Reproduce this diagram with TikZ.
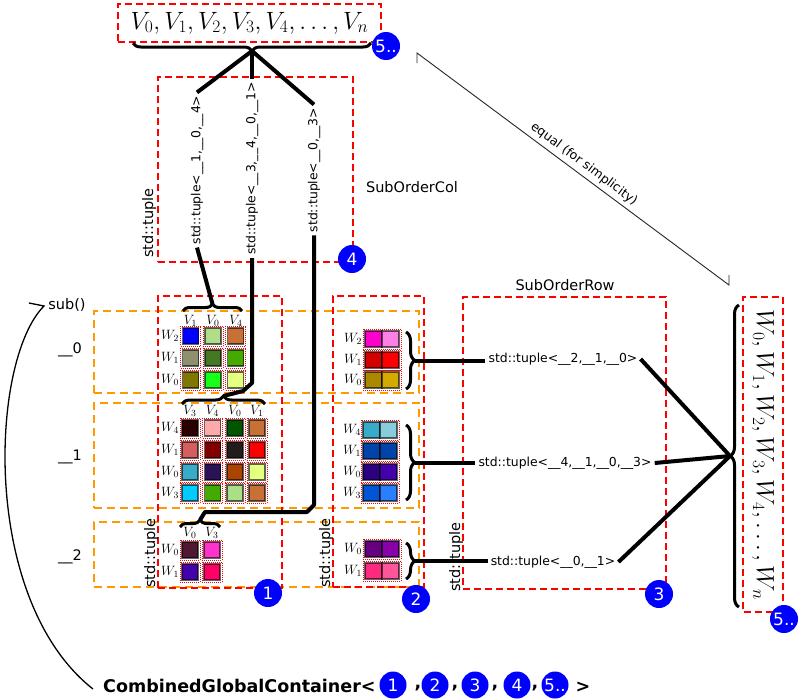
\RequirePackage{fix-cm}
\documentclass[tikz,border=0pt]{standalone}
\usepackage[no-math]{fontspec}
\setmainfont{DejaVu Sans}
\usetikzlibrary{decorations.pathreplacing}
\definecolor{boxorange}{RGB}{255,153,0}
\newcount\cellno
\newcommand\cellat[3]{%
  \global\advance\cellno by 1
  \definecolor{tmpc}{HTML}{#3}%
  \node[halo] (h\the\cellno) at (#1,#2) {};
  \node[cell, fill=tmpc] (c\the\cellno) at (#1,#2) {};}
\newcommand\pairat[4]{%
  \global\advance\cellno by 1
  \definecolor{tmpa}{HTML}{#3}%
  \definecolor{tmpb}{HTML}{#4}%
  \node[halo, minimum width=38pt, minimum height=20pt] (h\the\cellno) at (#1,#2) {};
  \node[cell, minimum width=17pt, minimum height=16pt, fill=tmpa] (pl\the\cellno) at ({#1-8.5},#2) {};
  \node[cell, minimum width=17pt, minimum height=16pt, fill=tmpb] (pr\the\cellno) at ({#1+8.5},#2) {};}
\begin{document}
\begin{tikzpicture}[x=1pt,y=-1pt,
 redbox/.style={draw=red, line width=2pt, dash pattern=on 7pt off 4pt, inner sep=0pt},
 orangebox/.style={draw=boxorange, line width=2pt, dash pattern=on 8pt off 5pt, inner sep=0pt},
 conn/.style={line width=4pt},
 brc/.style={decorate, decoration={brace, amplitude=8pt}, line width=3pt},
 brcm/.style={decorate, decoration={brace, mirror, amplitude=8pt}, line width=3pt},
 num/.style={circle, fill=blue, text=white, inner sep=0pt, minimum size=28pt, font=\fontsize{17}{17}\selectfont},
 tup/.style={font=\fontsize{12.4}{15}\selectfont, inner sep=3pt},
 lbl/.style={font=\fontsize{14.5}{17}\selectfont, inner sep=2pt},
 mlbl/.style={font=\fontsize{13.5}{16}\selectfont, inner sep=0pt},
 halo/.style={draw=red, densely dotted, line width=1pt, minimum size=20pt, inner sep=0pt},
 cell/.style={draw=black, draw opacity=0.6, line width=1.2pt, minimum size=16pt, inner sep=0pt},
]
\useasboundingbox (0,0) rectangle (800,699);
\fill[white] (0,0) rectangle (800,699);

% orange row boxes
\node[orangebox, minimum width=325pt, minimum height=82pt] (row0) at (256.5,352) {};
\node[orangebox, minimum width=325pt, minimum height=105pt] (row1) at (256.5,455.5) {};
\node[orangebox, minimum width=325pt, minimum height=65pt] (row2) at (256.5,554.5) {};

% red boxes
\node[redbox, minimum width=263pt, minimum height=38pt, font=\fontsize{25}{30}\selectfont] (vbox) at (249.5,23) {$V_0,V_1,V_2,V_3,V_4,\ldots,V_n$};
\node[redbox, minimum width=195pt, minimum height=185pt] (colbox) at (255.5,169.5) {};
\node[redbox, minimum width=124pt, minimum height=292pt] (box1) at (220,442) {};
\node[redbox, minimum width=91pt, minimum height=291pt] (box2) at (378.5,441.5) {};
\node[redbox, minimum width=203pt, minimum height=292pt] (box3) at (564.5,443) {};
\node[redbox, minimum width=315pt, minimum height=40pt, rotate=-90, font=\fontsize{25}{30}\selectfont] (wbox) at (763,454.5) {$W_0,W_1,W_2,W_3,W_4,\ldots,W_n$};

% labels
\node[lbl] (colname) at (412,187) {SubOrderCol};
\node[lbl] (rowname) at (565,285) {SubOrderRow};
\node[lbl, rotate=90] (st0) at (149,223) {std::tuple};
\node[lbl, rotate=90] (st1) at (151,553) {std::tuple};
\node[lbl, rotate=90] (st2) at (326,553) {std::tuple};
\node[lbl, rotate=90] (st3) at (456,557) {std::tuple};
\node[lbl] (sub) at (67,305) {sub()};
\node[lbl] (i0) at (70,350) {\_\_0};
\node[lbl] (i1) at (70,457) {\_\_1};
\node[lbl] (i2) at (70,557) {\_\_2};

% column tuples
\node[tup, rotate=90] (t1) at (197,170) {std::tuple<\_\_1,\_\_0,\_\_4>};
\node[tup, rotate=90] (t2) at (252,168.5) {std::tuple<\_\_3,\_\_4,\_\_0,\_\_1>};
\node[tup, rotate=90] (t3) at (314,170) {std::tuple<\_\_0,\_\_3>};

% row tuples
\node[tup] (r0) at (563,359) {std::tuple<\_\_2,\_\_1,\_\_0>};
\node[tup] (r1) at (565,463) {std::tuple<\_\_4,\_\_1,\_\_0,\_\_3>};
\node[tup] (r2) at (553,562) {std::tuple<\_\_0,\_\_1>};

% col1 row0 grid
\node[mlbl] (a0v1) at (190.5,321) {$V_1$};
\node[mlbl] (a0v0) at (213,321) {$V_0$};
\node[mlbl] (a0v4) at (236,321) {$V_4$};
\node[mlbl] (a0w2) at (170,336) {$W_2$};
\node[mlbl] (a0w1) at (170,358) {$W_1$};
\node[mlbl] (a0w0) at (170,380) {$W_0$};
\cellat{190.5}{336}{0000FF}\cellat{213}{336}{AFDD8A}\cellat{235.5}{336}{C87137}
\cellat{190.5}{358}{8F916E}\cellat{213}{358}{447821}\cellat{235.5}{358}{44AA00}
\cellat{190.5}{380}{807700}\cellat{213}{380}{1AFF1A}\cellat{235.5}{380}{E5FF80}

% col1 row1 grid
\node[mlbl] (a1v3) at (190,411) {$V_3$};
\node[mlbl] (a1v4) at (212.5,411) {$V_4$};
\node[mlbl] (a1v0) at (235,411) {$V_0$};
\node[mlbl] (a1v1) at (257,411) {$V_1$};
\node[mlbl] (a1w4) at (170,428) {$W_4$};
\node[mlbl] (a1w1) at (170,450) {$W_1$};
\node[mlbl] (a1w0) at (170,472) {$W_0$};
\node[mlbl] (a1w3) at (170,493) {$W_3$};
\cellat{190}{428}{2B0000}\cellat{212.5}{428}{FFAAAA}\cellat{235}{428}{005500}\cellat{257}{428}{C87137}
\cellat{190}{450}{D35F5F}\cellat{212.5}{450}{800000}\cellat{235}{450}{241C1C}\cellat{257}{450}{FF0000}
\cellat{190}{472}{37ABC8}\cellat{212.5}{472}{2B1155}\cellat{235}{472}{AA4400}\cellat{257}{472}{E5FF80}
\cellat{190}{493}{00CCFF}\cellat{212.5}{493}{44AA00}\cellat{235}{493}{AADE87}\cellat{257}{493}{C87137}

% col1 row2 grid
\node[mlbl] (a2v0) at (190,533) {$V_0$};
\node[mlbl] (a2v3) at (212,533) {$V_3$};
\node[mlbl] (a2w0) at (170,550) {$W_0$};
\node[mlbl] (a2w1) at (170,572) {$W_1$};
\cellat{190}{550}{501632}\cellat{212}{550}{FF33CC}
\cellat{190}{572}{4400AA}\cellat{212}{572}{FF0066}

% col2 grids
\node[mlbl] (b0w2) at (353,339) {$W_2$};
\node[mlbl] (b0w1) at (353,360) {$W_1$};
\node[mlbl] (b0w0) at (353,380) {$W_0$};
\pairat{382}{339}{FF00CC}{FF80E5}
\pairat{382}{360}{D40000}{FF0000}
\pairat{382}{380}{AA8800}{D4AA00}
\node[mlbl] (b1w4) at (352,430) {$W_4$};
\node[mlbl] (b1w1) at (352,451) {$W_1$};
\node[mlbl] (b1w0) at (352,472) {$W_0$};
\node[mlbl] (b1w3) at (352,493) {$W_3$};
\pairat{380}{430}{37ABC8}{87CDDE}
\pairat{380}{451}{0044AA}{0044AA}
\pairat{380}{472}{2A0080}{4400AA}
\pairat{380}{493}{0055D4}{2A7FFF}
\node[mlbl] (b2w0) at (353,549) {$W_0$};
\node[mlbl] (b2w1) at (353,571) {$W_1$};
\pairat{382}{549}{660080}{8800AA}
\pairat{382}{571}{FF2A7F}{FF5599}

% braces
\draw[brcm] (133,43) -- (371,43);
\coordinate (vtip) at (252,51);
\draw[brc, decoration={amplitude=7pt}] (183,311) -- (242,311);
\coordinate (b0tip) at (212.5,304);
\draw[brc] (182,404) -- (265,404);
\coordinate (b1tip) at (223.5,396);
\draw[brc, decoration={amplitude=7pt}] (180,527) -- (220,527);
\coordinate (b2tip) at (200,520);
\draw[brc, decoration={amplitude=9pt}] (406,332) -- (406,389);
\coordinate (rb0) at (415,360.5);
\draw[brc, decoration={amplitude=9pt}] (406,425) -- (406,500);
\coordinate (rb1) at (415,462.5);
\draw[brc, decoration={amplitude=9pt}] (406,543) -- (406,579);
\coordinate (rb2) at (415,561);
\draw[brcm, decoration={amplitude=9pt}] (739,305) -- (739,607);
\coordinate (wtip) at (730,456);

% connectors
\draw[conn] (vtip) -- (t1.east);
\draw[conn] (vtip) -- (t2.east);
\draw[conn] (vtip) -- (t3.east);
\draw[conn] (t1.west) -- (b0tip);
\draw[conn, line join=round] (t2.west) -- (252,383) -- (243,391) -- (b1tip);
\draw[conn, line join=round] (t3.west) -- (314,505) -- (307,512) -- (205,512) -- (b2tip);
\draw[conn] (rb0) -- (rb0 -| r0.west);
\draw[conn] (rb1) -- (rb1 -| r1.west);
\draw[conn] (rb2) -- (rb2 -| r2.west);
\draw[conn] (r0.east) -- (wtip);
\draw[conn] (r1.east) -- (wtip);
\draw[conn] (r2.east) -- (wtip);

% equal line
\coordinate (eqA) at (417,53);
\coordinate (eqB) at (729,285);
\draw[line width=0.9pt, black!85] (417,63) -- (eqA) -- node[pos=0.515, sloped, above=3pt, inner sep=1pt, font=\fontsize{12.5}{15}\selectfont, text=black] (eqlbl) {equal (for simplicity)} (eqB) -- (729,275);

% sub arc
\coordinate (subA) at (44,306);
\coordinate (subB) at (93,689);
\draw[line width=1.3pt] (29,303) -- (subA) .. controls (-10,360) and (-20,600) .. (subB);

% number circles
\node[num] (n5a) at (386,46) {5..};
\node[num] (n4) at (352,259) {4};
\node[num] (n1) at (268,593) {1};
\node[num] (n2) at (416,599) {2};
\node[num] (n3) at (659,594) {3};
\node[num] (n5b) at (784,619) {5..};

% bottom line
\node[anchor=west, inner sep=3pt, font=\fontsize{17.5}{20}\selectfont\bfseries] (cgc) at (100,686) {CombinedGlobalContainer<};
\node[num, minimum size=27pt] (m1) at (393,685) {1};
\node[num, minimum size=27pt] (m2) at (435,685) {2};
\node[num, minimum size=27pt] (m3) at (475,685) {3};
\node[num, minimum size=27pt] (m4) at (517,685) {4};
\node[num, minimum size=27pt] (m5) at (555,685) {5..};
\node[font=\fontsize{17.5}{20}\selectfont\bfseries, inner sep=0pt] (k1) at (418,688) {,};
\node[font=\fontsize{17.5}{20}\selectfont\bfseries, inner sep=0pt] (k2) at (455,688) {,};
\node[font=\fontsize{17.5}{20}\selectfont\bfseries, inner sep=0pt] (k3) at (495,688) {,};
\node[font=\fontsize{17.5}{20}\selectfont\bfseries, inner sep=0pt] (k4) at (535,688) {,};
\node[font=\fontsize{17.5}{20}\selectfont\bfseries, inner sep=0pt] (gt) at (583,687) {>};
\end{tikzpicture}
\end{document}
